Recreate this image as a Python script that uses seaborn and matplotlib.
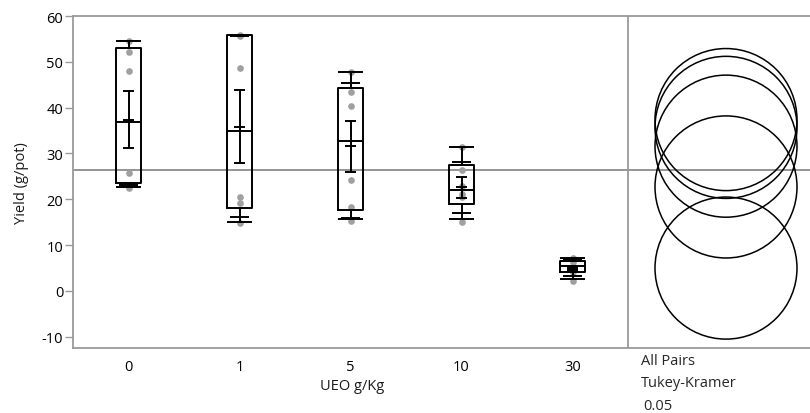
import matplotlib
matplotlib.use("Agg")
import matplotlib.pyplot as plt
from matplotlib.patches import Ellipse
import seaborn as sns
import pandas as pd

# ---- data ----
groups = ["0", "1", "5", "10", "30"]
points_0 = [54.6, 52.1, 47.9, 25.7, 22.9, 22.5]
points_1 = [55.9, 55.6, 48.7, 20.6, 19.3, 14.8]
points_5 = [47.7, 43.4, 40.4, 24.3, 18.4, 15.3]
points_10 = [31.5, 26.5, 23.0, 21.2, 20.4, 15.0]
points_30 = [7.1, 6.4, 5.5, 4.8, 4.1, 2.2]

q_min = [22.6, 15.0, 15.6, 15.7, 2.6]
q10 = [23.2, 16.2, 15.9, 17.0, 3.3]
q25 = [23.5, 18.1, 17.7, 19.0, 4.1]
q50 = [36.9, 35.0, 32.8, 22.0, 5.5]
q75 = [52.95, 55.9, 44.3, 27.5, 6.6]
q90 = [54.5, 55.7, 45.3, 28.1, 6.9]
q_max = [54.6, 55.9, 47.7, 31.5, 7.1]
means = [37.4, 35.7, 31.6, 22.7, 5.0]
err_lo = [31.3, 28.0, 25.9, 20.3, 4.6]
err_hi = [43.7, 43.8, 37.0, 24.8, 5.4]
grand_mean = 26.4
circle_radius = 15.5
alpha_text = ["All Pairs", "Tukey-Kramer", "0.05"]

sns.set_theme(style="white")
plt.rcParams["font.family"] = ["Open Sans", "DejaVu Sans"]
plt.rcParams["axes.unicode_minus"] = False

df = pd.DataFrame({
    "UEO": sum([[g] * len(p) for g, p in zip(groups, [points_0, points_1, points_5, points_10, points_30])], []),
    "Yield": points_0 + points_1 + points_5 + points_10 + points_30,
})

fig = plt.figure(figsize=(8.1, 4.14), dpi=100)
ax = fig.add_axes([73 / 810, 1 - 349 / 414, 1 - 73 / 810 + 0.02, (349 - 17) / 414])

sns.stripplot(data=df, x="UEO", y="Yield", order=groups, jitter=False,
              color="#a0a0a0", size=4.8, linewidth=0, ax=ax, zorder=2)

BW = 0.117   # half box width
QW = 0.09    # half width of 10/90 lines
EW = 0.05    # half width of error-bar caps
lc = "black"
lw = 1.4
for i in range(len(groups)):
    # box
    ax.plot([i - BW, i + BW, i + BW, i - BW, i - BW],
            [q25[i], q25[i], q75[i], q75[i], q25[i]], color=lc, lw=lw, zorder=3)
    ax.hlines(q50[i], i - BW, i + BW, color=lc, lw=lw, zorder=3)
    # whiskers
    ax.vlines(i, q75[i], q_max[i], color=lc, lw=lw, zorder=3)
    ax.vlines(i, q_min[i], q25[i], color=lc, lw=lw, zorder=3)
    ax.hlines([q_min[i], q_max[i]], i - BW, i + BW, color=lc, lw=lw, zorder=3)
    ax.hlines([q10[i], q90[i]], i - QW, i + QW, color=lc, lw=lw, zorder=3)
    # mean error bar
    ax.vlines(i, err_lo[i], err_hi[i], color=lc, lw=lw, zorder=3)
    ax.hlines([err_lo[i], err_hi[i], means[i]], i - EW, i + EW, color=lc, lw=lw, zorder=3)

# grand mean line
ax.axhline(grand_mean, color="#777777", lw=1.1, zorder=1)
# divider
ax.axvline(4.5, color="#9a9a9a", lw=1.3, zorder=1)

# comparison circles
cx = (726 - 73) / 111 - 0.5
cw = 2 * 71 / 111
for m in means:
    ax.add_patch(Ellipse((cx, m), cw, 2 * circle_radius, fill=False,
                         edgecolor="black", lw=1.1, zorder=3))

ax.set_xlim(-0.5, (810 - 73) / 111 - 0.5 + 0.02 * 810 / 111)
ax.set_ylim(-12.44, 60.0)
ax.set_yticks([-10, 0, 10, 20, 30, 40, 50, 60])
ax.set_xticks(range(len(groups)))
ax.set_xticklabels(groups)
ax.set_xlabel("UEO g/Kg", fontsize=10.5, color="#1a1a1a")
ax.xaxis.set_label_coords((352 - 73) / (810 * (1 - 73 / 810 + 0.02)), -0.09)
ax.set_ylabel("Yield (g/pot)", fontsize=10.5, color="#1a1a1a", labelpad=9)
ax.tick_params(axis="y", which="both", left=True, length=6, width=1,
               color="#9a9a9a", labelsize=10.5, labelcolor="black", pad=1)
ax.tick_params(axis="x", bottom=False, labelsize=10.5, labelcolor="black", pad=2)
for s in ["left", "top", "bottom"]:
    ax.spines[s].set_color("#9a9a9a")
    ax.spines[s].set_linewidth(1.3)
ax.spines["right"].set_visible(False)

fig.text(641 / 810, 1 - 362 / 414, alpha_text[0], fontsize=10.5, va="center", ha="left")
fig.text(641 / 810, 1 - 384 / 414, alpha_text[1], fontsize=10.5, va="center", ha="left")
fig.text(643 / 810, 1 - 407 / 414, alpha_text[2], fontsize=10.5, va="center", ha="left")

fig.savefig("out.png", dpi=100)
